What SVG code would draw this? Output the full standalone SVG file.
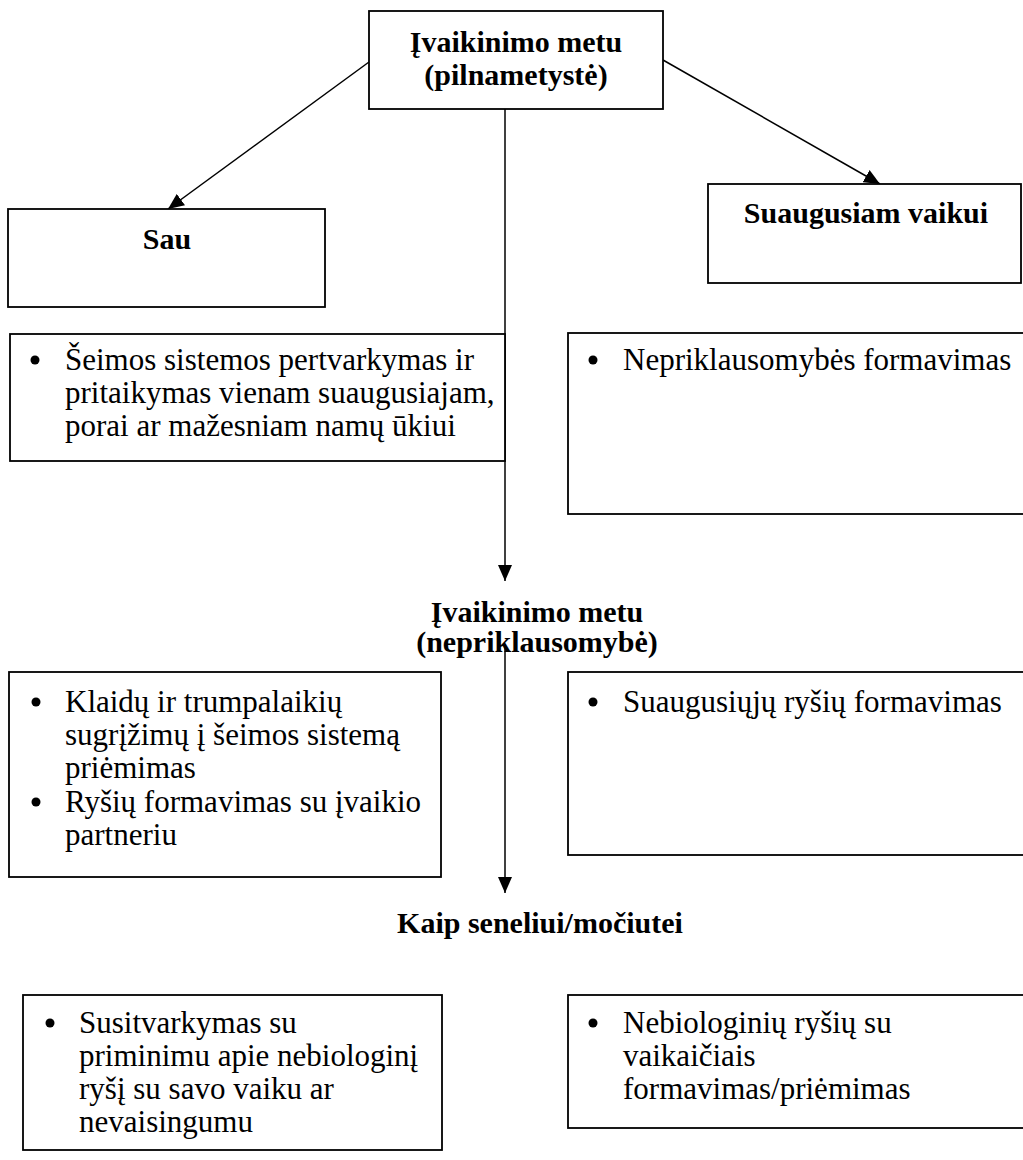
<svg xmlns="http://www.w3.org/2000/svg" width="1023" height="1160" viewBox="0 0 1023 1160">
  <style>
    .box { fill: #fff; stroke: #000; stroke-width: 1.8; }
    .line { fill: none; stroke: #000; stroke-width: 1.5; }
    .h { font-family: "Liberation Serif", "Times New Roman", serif; font-weight: bold; font-size: 30px; fill: #000; text-anchor: middle; }
    .t { font-family: "Liberation Serif", "Times New Roman", serif; font-size: 31px; fill: #000; }
    .dot { fill: #000; }
  </style>
  <defs>
    <marker id="arrow" markerUnits="userSpaceOnUse" markerWidth="16" markerHeight="14" refX="16" refY="7" orient="auto">
      <path d="M0,0 L16,7 L0,14 Z" fill="#000"/>
    </marker>
  </defs>
  <rect width="1023" height="1160" fill="#fff"/>

  <g id="connectors">
    <line class="line" x1="369" y1="62" x2="168" y2="209" marker-end="url(#arrow)"/>
    <line class="line" x1="663" y1="60" x2="880" y2="184" marker-end="url(#arrow)"/>
    <line class="line" x1="505" y1="109" x2="505" y2="581" marker-end="url(#arrow)"/>
    <line class="line" x1="505" y1="645" x2="505" y2="893" marker-end="url(#arrow)"/>
  </g>

  <g id="adoption-adulthood">
    <rect class="box" x="369" y="11" width="294" height="98"/>
    <text class="h" x="516" y="52">Įvaikinimo metu</text>
    <text class="h" x="516" y="85">(pilnametystė)</text>
  </g>

  <g id="self">
    <rect class="box" x="8" y="209" width="317" height="98"/>
    <text class="h" x="167" y="249">Sau</text>
  </g>

  <g id="adult-child">
    <rect class="box" x="708" y="184" width="313" height="99"/>
    <text class="h" x="866" y="223">Suaugusiam vaikui</text>
  </g>

  <g id="self-tasks-1">
    <rect class="box" x="10" y="334" width="495" height="127"/>
    <circle class="dot" cx="35" cy="360" r="4.5"/>
    <text class="t" x="65" y="370">Šeimos sistemos pertvarkymas ir</text>
    <text class="t" x="65" y="403">pritaikymas vienam suaugusiajam,</text>
    <text class="t" x="65" y="436">porai ar mažesniam namų ūkiui</text>
  </g>

  <g id="child-tasks-1">
    <rect class="box" x="568" y="333" width="470" height="181"/>
    <circle class="dot" cx="593" cy="360" r="4.5"/>
    <text class="t" x="623" y="370">Nepriklausomybės formavimas</text>
  </g>

  <g id="adoption-independence">
    <text class="h" x="537" y="622">Įvaikinimo metu</text>
    <text class="h" x="537" y="652">(nepriklausomybė)</text>
  </g>

  <g id="self-tasks-2">
    <rect class="box" x="9" y="672" width="432" height="205"/>
    <circle class="dot" cx="36" cy="702" r="4.5"/>
    <text class="t" x="65" y="712">Klaidų ir trumpalaikių</text>
    <text class="t" x="65" y="745">sugrįžimų į šeimos sistemą</text>
    <text class="t" x="65" y="778">priėmimas</text>
    <circle class="dot" cx="36" cy="802" r="4.5"/>
    <text class="t" x="65" y="812">Ryšių formavimas su įvaikio</text>
    <text class="t" x="65" y="845">partneriu</text>
  </g>

  <g id="child-tasks-2">
    <rect class="box" x="568" y="672" width="470" height="183"/>
    <circle class="dot" cx="593" cy="702" r="4.5"/>
    <text class="t" x="623" y="712">Suaugusiųjų ryšių formavimas</text>
  </g>

  <g id="grandparent">
    <text class="h" x="540" y="933">Kaip seneliui/močiutei</text>
  </g>

  <g id="grandparent-tasks-1">
    <rect class="box" x="23" y="995" width="419" height="155"/>
    <circle class="dot" cx="50" cy="1023" r="4.5"/>
    <text class="t" x="79" y="1033">Susitvarkymas su</text>
    <text class="t" x="79" y="1066">priminimu apie nebiologinį</text>
    <text class="t" x="79" y="1099">ryšį su savo vaiku ar</text>
    <text class="t" x="79" y="1132">nevaisingumu</text>
  </g>

  <g id="grandparent-tasks-2">
    <rect class="box" x="568" y="995" width="470" height="133"/>
    <circle class="dot" cx="593" cy="1023" r="4.5"/>
    <text class="t" x="623" y="1033">Nebiologinių ryšių su</text>
    <text class="t" x="623" y="1066">vaikaičiais</text>
    <text class="t" x="623" y="1099">formavimas/priėmimas</text>
  </g>
</svg>
